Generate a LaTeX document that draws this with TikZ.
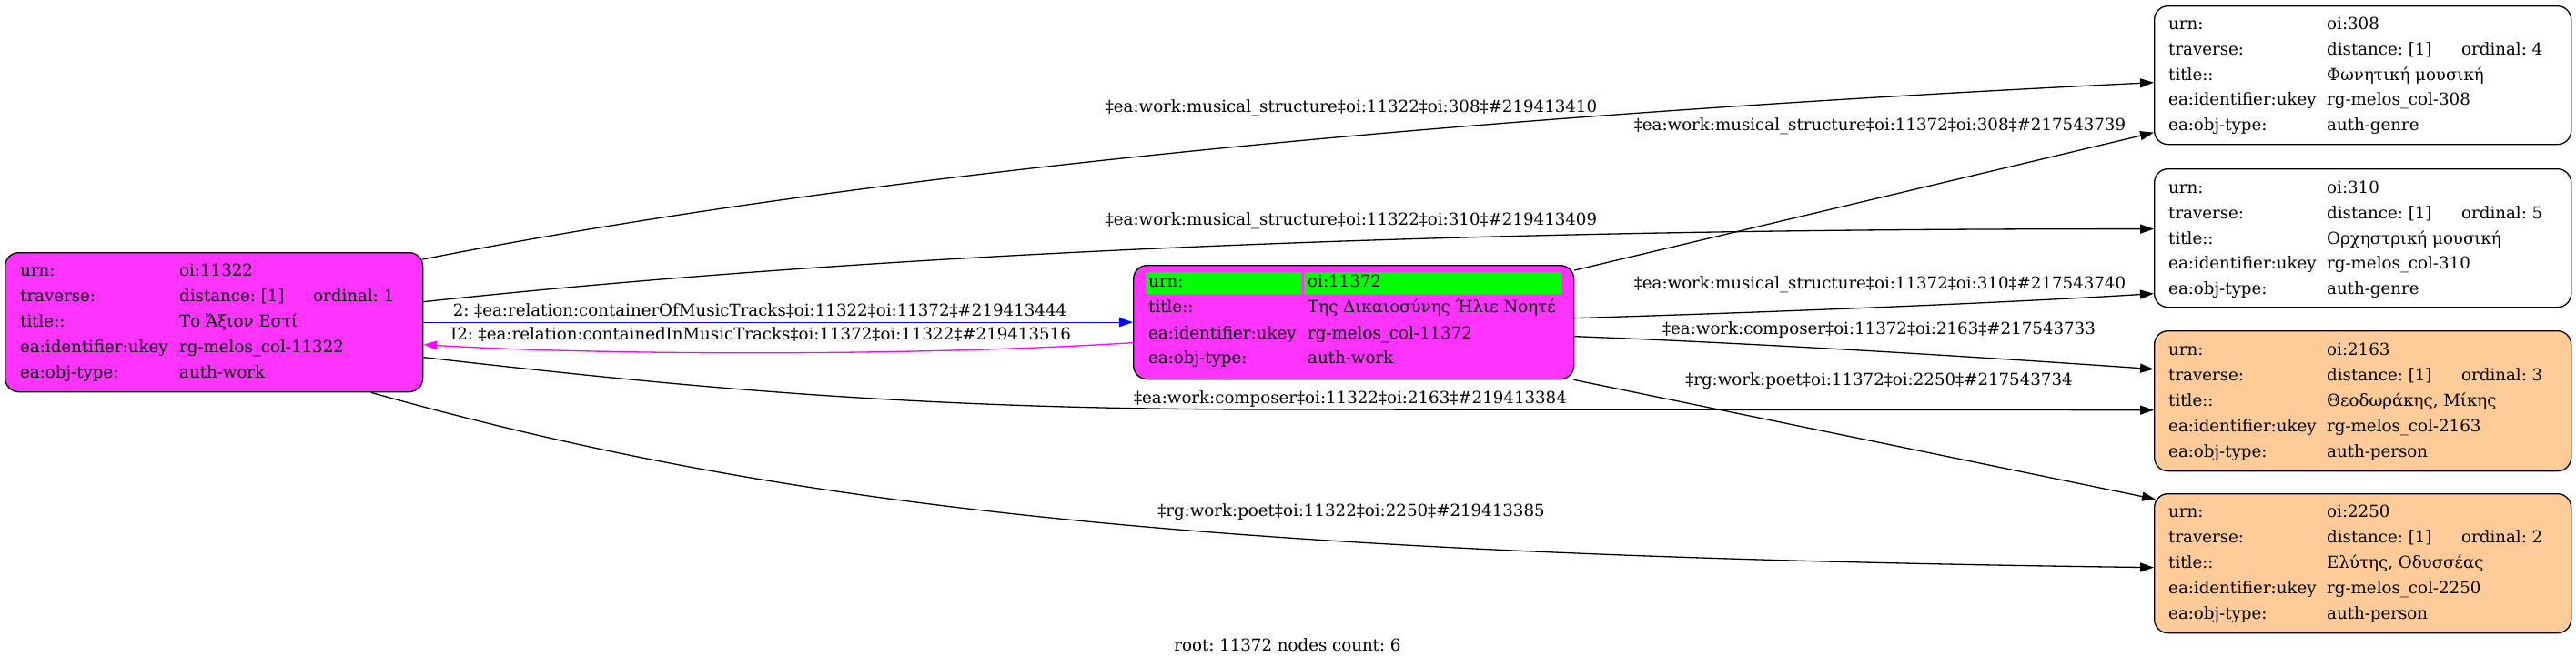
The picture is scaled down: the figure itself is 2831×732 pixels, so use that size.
\documentclass[tikz,border=0pt]{standalone}
\usepackage{fontspec}
\setmainfont{DejaVu Serif}
\usetikzlibrary{arrows.meta,calc}
\definecolor{boxmag}{HTML}{FF33FF}
\definecolor{linemag}{HTML}{FF00FF}
\definecolor{peach}{HTML}{FFCC99}
\definecolor{cellgreen}{HTML}{00FF00}
\definecolor{lineblue}{HTML}{0000FF}
\tikzset{
  rec/.style={draw=black, line width=1.3pt, rounded corners=15pt, inner sep=0pt, anchor=north west},
  txt/.style={anchor=base west, inner sep=0pt, font=\fontsize{18.2}{22}\selectfont\frenchspacing},
  lbl/.style={anchor=base, inner sep=0pt, font=\fontsize{18.2}{22}\selectfont\frenchspacing},
  edge/.style={draw=black, line width=1.3pt, -{Triangle[length=15pt,width=10pt]}},
}
\newcommand\rw[5]{\path (#1.north west) ++(#2,#3) node[txt] (#5) {#4};}
\begin{document}
\frenchspacing
\begin{tikzpicture}[x=1pt,y=-1pt]
\useasboundingbox (0,0) rectangle (2831,732);
\fill[white] (0,0) rectangle (2831,732);

% boxes
\node[rec, fill=boxmag, minimum width=459pt, minimum height=153pt] (A) at (5,277) {};
\node[rec, fill=boxmag, minimum width=484pt, minimum height=125pt] (B) at (1245,291) {};
\node[rec, fill=white, minimum width=458pt, minimum height=152pt] (C) at (2367,6) {};
\node[rec, fill=white, minimum width=458pt, minimum height=152pt] (D) at (2367,185) {};
\node[rec, fill=peach, minimum width=458pt, minimum height=154pt] (E) at (2367,363) {};
\node[rec, fill=peach, minimum width=458pt, minimum height=153pt] (F) at (2367,542) {};

% A
\rw{A}{17}{26}{urn:}{A1} \rw{A}{192}{26}{oi:11322}{A2}
\rw{A}{17}{54}{traverse:}{A3} \rw{A}{192}{54}{distance: [1]}{A4} \rw{A}{339}{54}{ordinal: 1}{A5}
\rw{A}{17}{82}{title::}{A6} \rw{A}{192}{82}{Το Ἄξιον Εστί}{A7}
\rw{A}{17}{110}{ea:identifier:ukey}{A8} \rw{A}{192}{110}{rg-melos\_col-11322}{A9}
\rw{A}{17}{138}{ea:obj-type:}{A10} \rw{A}{192}{138}{auth-work}{A11}

% B
\fill[cellgreen] ($(B.north west)+(14,8)$) rectangle ($(B.north west)+(185,32)$);
\fill[cellgreen] ($(B.north west)+(188,8)$) rectangle ($(B.north west)+(471,32)$);
\rw{B}{17}{24}{urn:}{B1} \rw{B}{192}{24}{oi:11372}{B2}
\rw{B}{17}{52}{title::}{B3} \rw{B}{192}{52}{Της Δικαιοσύνης Ήλιε Νοητέ}{B4}
\rw{B}{17}{81}{ea:identifier:ukey}{B5} \rw{B}{192}{81}{rg-melos\_col-11372}{B6}
\rw{B}{17}{108}{ea:obj-type:}{B7} \rw{B}{192}{108}{auth-work}{B8}

% C
\rw{C}{16}{26}{urn:}{C1} \rw{C}{190}{26}{oi:308}{C2}
\rw{C}{16}{54}{traverse:}{C3} \rw{C}{190}{54}{distance: [1]}{C4} \rw{C}{338}{54}{ordinal: 4}{C5}
\rw{C}{16}{82}{title::}{C6} \rw{C}{190}{82}{Φωνητική μουσική}{C7}
\rw{C}{16}{109}{ea:identifier:ukey}{C8} \rw{C}{190}{109}{rg-melos\_col-308}{C9}
\rw{C}{16}{137}{ea:obj-type:}{C10} \rw{C}{190}{137}{auth-genre}{C11}

% D
\rw{D}{16}{27}{urn:}{D1} \rw{D}{190}{27}{oi:310}{D2}
\rw{D}{16}{55}{traverse:}{D3} \rw{D}{190}{55}{distance: [1]}{D4} \rw{D}{338}{55}{ordinal: 5}{D5}
\rw{D}{16}{83}{title::}{D6} \rw{D}{190}{83}{Ορχηστρική μουσική}{D7}
\rw{D}{16}{110}{ea:identifier:ukey}{D8} \rw{D}{190}{110}{rg-melos\_col-310}{D9}
\rw{D}{16}{138}{ea:obj-type:}{D10} \rw{D}{190}{138}{auth-genre}{D11}

% E
\rw{E}{16}{27}{urn:}{E1} \rw{E}{190}{27}{oi:2163}{E2}
\rw{E}{16}{55}{traverse:}{E3} \rw{E}{190}{55}{distance: [1]}{E4} \rw{E}{338}{55}{ordinal: 3}{E5}
\rw{E}{16}{83}{title::}{E6} \rw{E}{190}{83}{Θεοδωράκης, Μίκης}{E7}
\rw{E}{16}{111}{ea:identifier:ukey}{E8} \rw{E}{190}{111}{rg-melos\_col-2163}{E9}
\rw{E}{16}{139}{ea:obj-type:}{E10} \rw{E}{190}{139}{auth-person}{E11}

% F
\rw{F}{16}{26}{urn:}{F1} \rw{F}{190}{26}{oi:2250}{F2}
\rw{F}{16}{54}{traverse:}{F3} \rw{F}{190}{54}{distance: [1]}{F4} \rw{F}{338}{54}{ordinal: 2}{F5}
\rw{F}{16}{82}{title::}{F6} \rw{F}{190}{82}{Ελύτης, Οδυσσέας}{F7}
\rw{F}{16}{110}{ea:identifier:ukey}{F8} \rw{F}{190}{110}{rg-melos\_col-2250}{F9}
\rw{F}{16}{138}{ea:obj-type:}{F10} \rw{F}{190}{138}{auth-person}{F11}

% edges
\draw[edge] ($(A.north east)+(-1,8)$) .. controls (1000,180) and (1700,123) .. ($(C.west)+(0,8)$);
\draw[edge] ($(A.east)+(0,-22.5)$) .. controls (900,285) and (1500,251) .. ($(D.west)+(0,-10)$);
\draw[edge, draw=lineblue] (A.east) -- (B.west);
\draw[edge, draw=linemag] ($(B.west)+(0,22.5)$) .. controls (1000,392) and (650,390) .. ($(A.east)+(0,24.5)$);
\draw[edge] ($(A.east)+(0,38.5)$) .. controls (750,425) and (1000,450) .. (1400,450) -- ($(E.west)+(0,10)$);
\draw[edge] ($(A.south)+(172.5,0)$) .. controls (850,555) and (1300,610) .. ($(F.west)+(0,4.5)$);
\draw[edge] ($(B.north east)+(0,6)$) -- ($(C.west)+(0,63)$);
\draw[edge] ($(B.east)+(0,-4.5)$) .. controls (1950,343) and (2200,333) .. ($(D.west)+(0,61)$);
\draw[edge] ($(B.east)+(0,15.5)$) .. controls (1950,378) and (2200,394) .. ($(E.west)+(0,-35)$);
\draw[edge] ($(B.south east)+(-1,0)$) -- ($(F.west)+(2,-70.5)$);

% edge labels
\node[lbl] (L1) at (1485,123) {‡ea:work:musical\_structure‡oi:11322‡oi:308‡\#219413410};
\node[lbl] (L2) at (2066,143) {‡ea:work:musical\_structure‡oi:11372‡oi:308‡\#217543739};
\node[lbl] (L3) at (1485,247) {‡ea:work:musical\_structure‡oi:11322‡oi:310‡\#219413409};
\node[lbl] (L4) at (2066,317) {‡ea:work:musical\_structure‡oi:11372‡oi:310‡\#217543740};
\node[lbl] (L5) at (835,347) {2: ‡ea:relation:containerOfMusicTracks‡oi:11322‡oi:11372‡\#219413444};
\node[lbl] (L6) at (836,373) {I2: ‡ea:relation:containedInMusicTracks‡oi:11372‡oi:11322‡\#219413516};
\node[lbl] (L7) at (2065,367) {‡ea:work:composer‡oi:11372‡oi:2163‡\#217543733};
\node[lbl] (L8) at (2065,423) {‡rg:work:poet‡oi:11372‡oi:2250‡\#217543734};
\node[lbl] (L9) at (1484,443) {‡ea:work:composer‡oi:11322‡oi:2163‡\#219413384};
\node[lbl] (L10) at (1485,567) {‡rg:work:poet‡oi:11322‡oi:2250‡\#219413385};
\node[lbl] (foot) at (1415,715) {root: 11372 nodes count: 6};
\end{tikzpicture}
\end{document}
